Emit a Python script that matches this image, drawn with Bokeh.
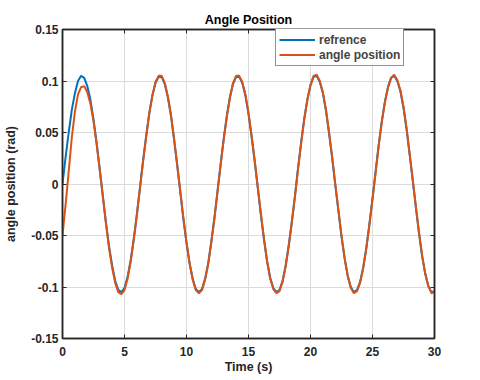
import numpy as np
from bokeh.plotting import figure
from bokeh.models import LinearAxis, FixedTicker, Legend, LegendItem, Range1d
from bokeh.embed import file_html
from bokeh.resources import INLINE

# time grid (s)
t = np.arange(0, 30.001, 0.25)

refrence = [
    0.000, 0.026, 0.050, 0.072, 0.088, 0.100, 0.105, 0.103, 0.095, 0.082,
    0.063, 0.040, 0.015, -0.011, -0.037, -0.060, -0.079, -0.094, -0.103, -0.105,
    -0.101, -0.090, -0.074, -0.053, -0.029, -0.003, 0.023, 0.047, 0.069, 0.086,
    0.098, 0.104, 0.104, 0.097, 0.084, 0.066, 0.043, 0.018, -0.008, -0.034,
    -0.057, -0.077, -0.092, -0.102, -0.105, -0.102, -0.092, -0.077, -0.056, -0.033,
    -0.007, 0.019, 0.044, 0.066, 0.084, 0.097, 0.104, 0.104, 0.098, 0.086,
    0.068, 0.046, 0.022, -0.004, -0.030, -0.054, -0.075, -0.091, -0.101, -0.105,
    -0.103, -0.094, -0.079, -0.059, -0.036, -0.011, 0.016, 0.041, 0.064, 0.082,
    0.096, 0.104, 0.105, 0.099, 0.088, 0.071, 0.049, 0.025, -0.001, -0.026,
    -0.051, -0.072, -0.089, -0.100, -0.105, -0.103, -0.095, -0.081, -0.062, -0.039,
    -0.014, 0.012, 0.038, 0.061, 0.080, 0.094, 0.103, 0.105, 0.100, 0.090,
    0.074, 0.053, 0.028, 0.003, -0.023, -0.048, -0.070, -0.087, -0.099, -0.105,
    -0.104,
]

angle_position = [
    -0.050, -0.020, 0.012, 0.045, 0.070, 0.087, 0.094, 0.095, 0.089, 0.078,
    0.061, 0.039, 0.014, -0.012, -0.038, -0.062, -0.081, -0.096, -0.105, -0.107,
    -0.103, -0.092, -0.075, -0.054, -0.030, -0.004, 0.022, 0.046, 0.068, 0.086,
    0.099, 0.105, 0.105, 0.098, 0.085, 0.067, 0.044, 0.019, -0.007, -0.033,
    -0.057, -0.077, -0.093, -0.103, -0.106, -0.103, -0.093, -0.078, -0.057, -0.034,
    -0.008, 0.018, 0.043, 0.065, 0.084, 0.098, 0.105, 0.105, 0.099, 0.087,
    0.069, 0.047, 0.023, -0.003, -0.029, -0.053, -0.075, -0.092, -0.102, -0.106,
    -0.104, -0.095, -0.080, -0.060, -0.037, -0.012, 0.015, 0.040, 0.063, 0.082,
    0.096, 0.105, 0.106, 0.100, 0.089, 0.072, 0.050, 0.026, 0.000, -0.025,
    -0.050, -0.072, -0.089, -0.101, -0.106, -0.104, -0.096, -0.082, -0.063, -0.040,
    -0.015, 0.011, 0.037, 0.060, 0.079, 0.094, 0.103, 0.106, 0.101, 0.091,
    0.075, 0.054, 0.029, 0.004, -0.022, -0.047, -0.069, -0.087, -0.099, -0.106,
    -0.105,
]

xticks = [0, 5, 10, 15, 20, 25, 30]
yticks = [-0.15, -0.1, -0.05, 0, 0.05, 0.1, 0.15]
ytick_labels = ["-0.15", "-0.1", "-0.05", "0", "0.05", "0.1", "0.15"]

FONT = "Liberation Sans"
INK = "#262626"

p = figure(width=480, height=380, output_backend="svg", toolbar_location=None,
           x_range=Range1d(0, 30), y_range=Range1d(-0.15, 0.15),
           min_border_left=62, min_border_right=46, min_border_top=29,
           min_border_bottom=42, x_axis_location=None, y_axis_location=None)

p.title.text = "Angle Position"
p.title.align = "center"
p.title.text_font = FONT
p.title.text_font_style = "bold"
p.title.text_font_size = "12.5px"
p.title.text_color = "black"
p.title.offset = 0
p.title.standoff = 5

xax = LinearAxis(ticker=FixedTicker(ticks=xticks), axis_label="Time (s)")
yax = LinearAxis(ticker=FixedTicker(ticks=yticks), axis_label="angle position (rad)")
yax.major_label_overrides = {v: s for v, s in zip(yticks, ytick_labels)}
xtop = LinearAxis(ticker=FixedTicker(ticks=xticks))
yright = LinearAxis(ticker=FixedTicker(ticks=yticks))
xtop.major_label_overrides = {v: "" for v in xticks}
yright.major_label_overrides = {v: "" for v in yticks}

for ax in (xax, yax, xtop, yright):
    ax.major_tick_in = 4
    ax.major_tick_out = 0
    ax.minor_tick_line_color = None
    ax.axis_line_color = INK
    ax.axis_line_width = 1.5
    ax.major_tick_line_color = INK
    ax.major_label_text_font = FONT
    ax.major_label_text_font_style = "bold"
    ax.major_label_text_font_size = "12px"
    ax.major_label_text_color = INK
    ax.axis_label_text_font = FONT
    ax.axis_label_text_font_style = "bold"
    ax.axis_label_text_font_size = "12.5px"
    ax.axis_label_text_color = INK

for ax in (xtop, yright):
    ax.major_label_standoff = 0

xax.major_label_standoff = 8
xax.axis_label_standoff = 1
yax.major_label_standoff = 4
yax.axis_label_standoff = 10

p.add_layout(xax, "below")
p.add_layout(yax, "left")
p.add_layout(xtop, "above")
p.add_layout(yright, "right")

p.xgrid.ticker = FixedTicker(ticks=xticks)
p.ygrid.ticker = FixedTicker(ticks=yticks)
p.xgrid.grid_line_color = "#dcdcdc"
p.ygrid.grid_line_color = "#dcdcdc"
p.outline_line_color = INK
p.outline_line_width = 1.5

r1 = p.line(t, refrence, line_color="#0072BD", line_width=2)
r2 = p.line(t, angle_position, line_color="#D95319", line_width=2)

legend = Legend(items=[LegendItem(label="refrence", renderers=[r1]),
                       LegendItem(label="angle position", renderers=[r2])],
                location=(213, 272))
legend.label_text_font = FONT
legend.label_text_font_style = "bold"
legend.label_text_font_size = "12px"
legend.label_height = 15
legend.glyph_height = 15
legend.glyph_width = 36
legend.label_standoff = 4
legend.spacing = 0
legend.padding = 3
legend.margin = 0
legend.border_line_color = INK
legend.border_line_width = 1
legend.background_fill_alpha = 1
p.add_layout(legend, "center")

open("out.html", "w").write(file_html(p, INLINE))
